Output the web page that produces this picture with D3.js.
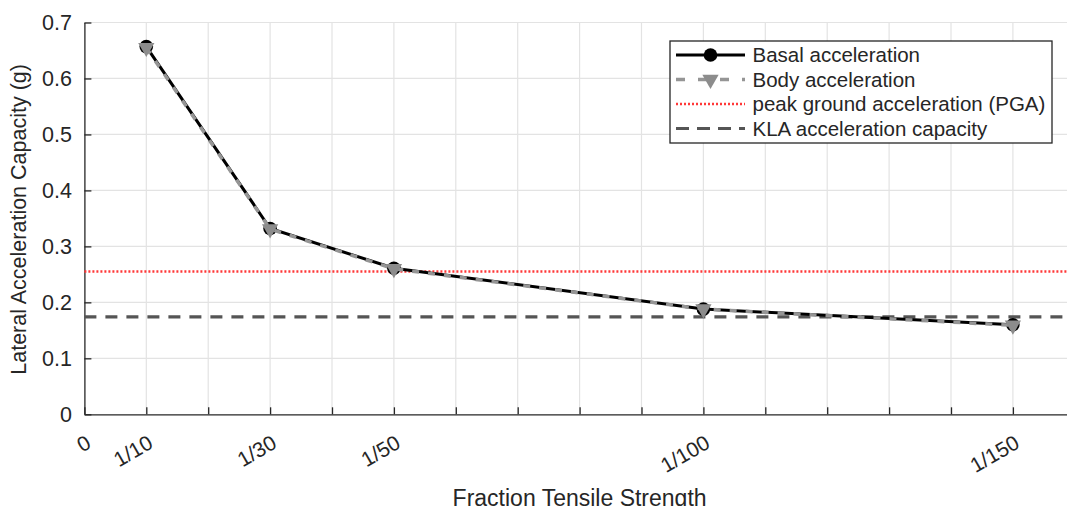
<!DOCTYPE html>
<html><head><meta charset="utf-8">
<script src="https://cdn.jsdelivr.net/npm/d3@7"></script>
<style>
body{margin:0;background:#fff;}
svg{display:block;font-family:"Liberation Sans",Arial,sans-serif;}
</style></head>
<body>
<svg id="chart" width="1067" height="506"></svg>
<script>
const categories = ["1/10","1/30","1/50","1/100","1/150"];
const xPositions = [1, 3, 5, 10, 15];
const basal = [0.657, 0.332, 0.261, 0.188, 0.16];
const body  = [0.655, 0.331, 0.260, 0.188, 0.159];
const pga = 0.255;
const kla = 0.174;
const xTickValues = d3.range(0, 17);
const xTickLabels = {0:"0",1:"1/10",3:"1/30",5:"1/50",10:"1/100",15:"1/150"};
const yTickValues = [0,0.1,0.2,0.3,0.4,0.5,0.6,0.7];
const legendLabels = ["Basal acceleration","Body acceleration","peak ground acceleration (PGA)","KLA acceleration capacity"];

const svg = d3.select("#chart");
const x = d3.scaleLinear().domain([0,16]).range([84.4, 1074.8]);
const y = d3.scaleLinear().domain([0,0.7]).range([414.3, 22.5]);
const ink = "#262626";

// grid
svg.append("g").selectAll("line").data(xTickValues.filter(d=>d>0)).join("line")
  .attr("x1",d=>x(d)).attr("x2",d=>x(d)).attr("y1",y(0)).attr("y2",y(0.7))
  .attr("stroke","#e3e3e3").attr("stroke-width",1.2);
svg.append("g").selectAll("line").data(yTickValues.filter(d=>d>0)).join("line")
  .attr("x1",x(0)).attr("x2",x(16)).attr("y1",d=>y(d)).attr("y2",d=>y(d))
  .attr("stroke","#e3e3e3").attr("stroke-width",1.2);

// axes
const xAxis = d3.axisBottom(x).tickValues(xTickValues).tickSizeInner(-7).tickSizeOuter(0).tickFormat(()=> "");
const gx = svg.append("g").attr("transform",`translate(0,${y(0)})`).call(xAxis);
gx.select(".domain").attr("stroke",ink).attr("stroke-width",1.3);
gx.selectAll(".tick line").attr("stroke",ink).attr("stroke-width",1.3);

const yAxis = d3.axisLeft(y).tickValues(yTickValues).tickSizeInner(-7).tickSizeOuter(0).tickFormat(()=> "");
const gy = svg.append("g").attr("transform",`translate(${x(0)},0)`).call(yAxis);
gy.select(".domain").attr("stroke",ink).attr("stroke-width",1.3);
gy.selectAll(".tick line").attr("stroke",ink).attr("stroke-width",1.3);

// tick labels
svg.append("g").selectAll("text").data(yTickValues).join("text")
  .attr("x",72).attr("y",d=>y(d)).attr("dy","0.36em")
  .attr("text-anchor","end").attr("fill",ink).attr("font-size",21.5)
  .text(d=>d===0?"0":d3.format(".1f")(d));

svg.append("g").selectAll("text").data(Object.keys(xTickLabels).map(Number)).join("text")
  .attr("transform",d=>`translate(${x(d)+8},447) rotate(-30)`)
  .attr("text-anchor","end").attr("fill",ink).attr("font-size",21)
  .text(d=>xTickLabels[d]);

// axis titles
svg.append("text").attr("x",(x(0)+x(16))/2).attr("y",505.5).attr("text-anchor","middle")
  .attr("fill",ink).attr("font-size",23).text("Fraction Tensile Strength");
svg.append("text").attr("transform",`translate(26,${(y(0)+y(0.7))/2 + 1}) rotate(-90)`)
  .attr("text-anchor","middle").attr("fill",ink).attr("font-size",21.5)
  .text("Lateral Acceleration Capacity (g)");

// reference lines
svg.append("line").attr("x1",x(0)).attr("x2",x(16)).attr("y1",y(pga)).attr("y2",y(pga))
  .attr("stroke","#ff3838").attr("stroke-width",2.6).attr("stroke-dasharray","2,2");
svg.append("line").attr("x1",x(0)).attr("x2",x(16)).attr("y1",y(kla)).attr("y2",y(kla))
  .attr("stroke","#555555").attr("stroke-width",3.2).attr("stroke-dasharray","12,9");

// series
const basalPts = xPositions.map((xv,i)=>[xv,basal[i]]);
const bodyPts = xPositions.map((xv,i)=>[xv,body[i]]);
const line = d3.line().x(d=>x(d[0])).y(d=>y(d[1]));
svg.append("path").attr("d",line(basalPts)).attr("fill","none").attr("stroke","#000").attr("stroke-width",3);
svg.append("g").selectAll("circle").data(basalPts).join("circle")
  .attr("cx",d=>x(d[0])).attr("cy",d=>y(d[1])).attr("r",6.8).attr("fill","#000");
svg.append("path").attr("d",line(bodyPts)).attr("fill","none").attr("stroke","#959595")
  .attr("stroke-width",3.5).attr("stroke-dasharray","7,9");
const tri = d3.symbol().type(d3.symbolTriangle).size(115);
svg.append("g").selectAll("path").data(bodyPts).join("path")
  .attr("transform",d=>`translate(${x(d[0])},${y(d[1])}) rotate(180)`)
  .attr("d",tri()).attr("fill","#8c8c8c");

// legend
const lg = svg.append("g");
lg.append("rect").attr("x",670).attr("y",41).attr("width",382).attr("height",102)
  .attr("fill","#fff").attr("stroke",ink).attr("stroke-width",1.3);
const rowY = [55, 79.5, 104, 128.5];
const styles = [
  {stroke:"#000",w:3,dash:null},
  {stroke:"#959595",w:3.5,dash:"9,13"},
  {stroke:"#ff3838",w:2.6,dash:"2,2"},
  {stroke:"#555555",w:3.2,dash:"13,8"}
];
legendLabels.forEach((lab,i)=>{
  lg.append("line").attr("x1",676).attr("x2",745).attr("y1",rowY[i]).attr("y2",rowY[i])
    .attr("stroke",styles[i].stroke).attr("stroke-width",styles[i].w)
    .attr("stroke-dasharray",styles[i].dash);
  lg.append("text").attr("x",752.5).attr("y",rowY[i]).attr("dy","0.36em")
    .attr("fill",ink).attr("font-size",20.5).text(lab);
});
lg.append("circle").attr("cx",710.5).attr("cy",rowY[0]).attr("r",6.8).attr("fill","#000");
lg.append("path").attr("transform",`translate(710.5,${rowY[1]}) rotate(180)`)
  .attr("d",tri()).attr("fill","#8c8c8c");
</script>
</body></html>
